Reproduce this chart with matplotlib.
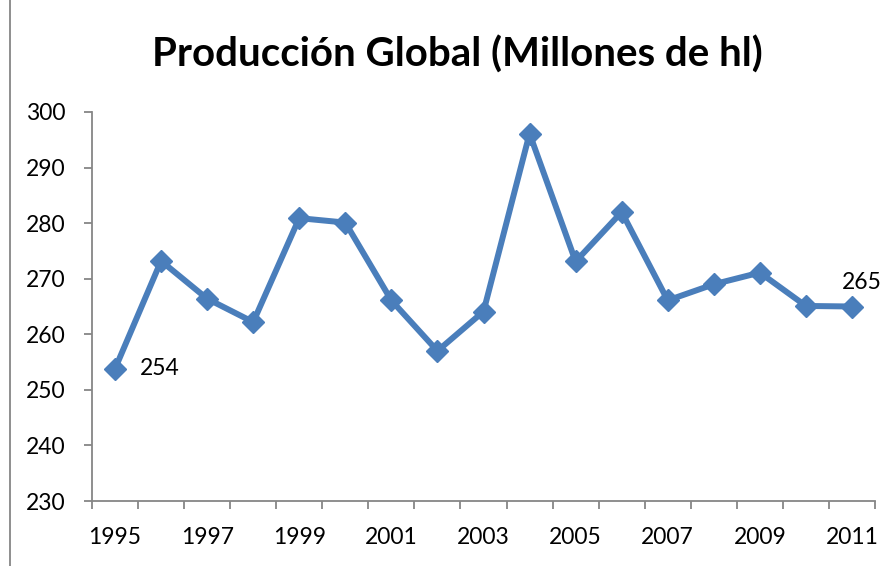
"""produccion_global"""

from matplotlib import pyplot as plt
from matplotlib.lines import Line2D
import numpy as np

# Datos
anios = [1995, 1996, 1997, 1998, 1999, 2000, 2001, 2002, 2003,
         2004, 2005, 2006, 2007, 2008, 2009, 2010, 2011]
produccion = [253.8, 273.2, 266.4, 262.2, 280.9, 280.1, 266.1, 257.0, 264.1,
              296.1, 273.1, 282.0, 266.1, 269.0, 271.1, 265.1, 265.0]
etiquetas_y = [230, 240, 250, 260, 270, 280, 290, 300]

plt.rcParams['font.family'] = ['Lato', 'DejaVu Sans']

AZUL = "#4a7ebb"
GRIS = "#868686"

fig = plt.figure(figsize=(8.96, 5.66), dpi=100)
ax = fig.add_axes([92/896, 1 - 501/566, (875-92)/896, (501-112)/566])

x = np.arange(len(anios))
ax.plot(x, produccion, color=AZUL, linewidth=4.3, marker="D",
        markersize=11.5, markerfacecolor=AZUL, markeredgecolor=AZUL,
        solid_joinstyle="miter")

ax.set_xlim(-0.5, len(anios) - 0.5)
ax.set_ylim(230, 300)
ax.set_yticks(etiquetas_y)
ax.set_yticklabels([str(v) for v in etiquetas_y])

# categorias: marcas entre categorias, etiquetas cada dos anios
ax.set_xticks(x[::2])
ax.set_xticklabels([str(a) for a in anios[::2]])
ax.set_xticks(np.arange(len(anios) + 1) - 0.5, minor=True)
ax.tick_params(axis="x", which="major", length=0, pad=19)
ax.tick_params(axis="x", which="minor", length=6, width=1.3, color=GRIS)
ax.tick_params(axis="y", length=6, width=1.3, color=GRIS, pad=13)
ax.tick_params(labelsize=16.5)

for lado in ["top", "right"]:
    ax.spines[lado].set_visible(False)
for lado in ["left", "bottom"]:
    ax.spines[lado].set_color(GRIS)
    ax.spines[lado].set_linewidth(1.3)

# etiquetas de datos
ax.annotate(f"{produccion[0]:.0f}", (x[0], produccion[0]), xytext=(18, 0),
            textcoords="offset points", fontsize=16.5, va="center", ha="left")
ax.annotate(f"{produccion[-1]:.0f}", (x[-1], produccion[-1]), xytext=(7, 10),
            textcoords="offset points", fontsize=16.5, va="bottom", ha="center")

fig.text(457/896, 1 - 55/566, "Producción Global (Millones de hl)",
         ha="center", va="center", fontsize=29, fontweight="bold")

# borde izquierdo del grafico
fig.add_artist(Line2D([10/896, 10/896], [0, 1], color=GRIS, linewidth=1.3,
                      transform=fig.transFigure))

fig.savefig("out.png", dpi=100)
